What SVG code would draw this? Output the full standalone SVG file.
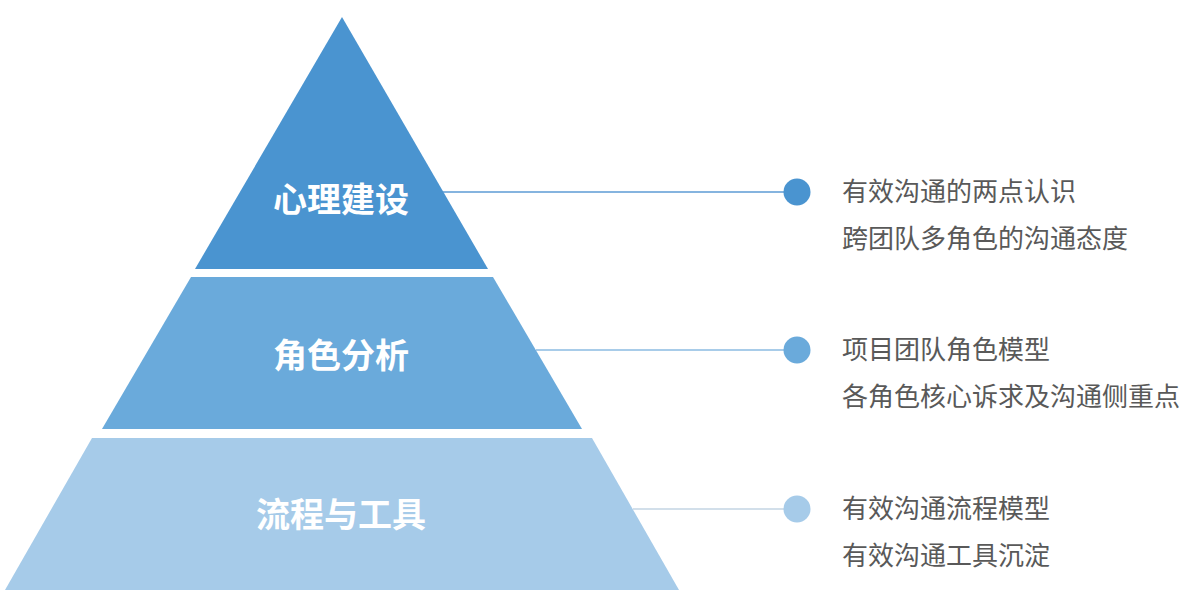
<svg xmlns="http://www.w3.org/2000/svg" width="1200" height="593" viewBox="0 0 1200 593">
  <style>
    .lbl { font-family: "Noto Sans CJK SC", "Noto Sans", sans-serif; font-size: 34px; font-weight: 700; fill: #ffffff; text-anchor: middle; }
    .desc { font-family: "Noto Sans CJK SC", "Noto Sans", sans-serif; font-size: 26px; font-weight: 400; fill: #595959; }
    .conn { stroke-width: 1.5; fill: none; }
  </style>
  <rect width="1200" height="593" fill="#ffffff"/>
  <g id="connectors">
    <line class="conn" x1="443" y1="192" x2="797" y2="192" stroke="#5c9bd4"/>
    <line class="conn" x1="536" y1="350" x2="797" y2="350" stroke="#8bbbe2"/>
    <line class="conn" x1="633" y1="509" x2="797" y2="509" stroke="#c3d4e3"/>
  </g>
  <g id="layer-top">
    <polygon points="342,17 488,269 195,269" fill="#4a94d0"/>
    <text class="lbl" x="341" y="212">心理建设</text>
  </g>
  <g id="layer-middle">
    <polygon points="191,277 493,277 582,429 102,429" fill="#6aaadb"/>
    <text class="lbl" x="341" y="368">角色分析</text>
  </g>
  <g id="layer-bottom">
    <polygon points="92,438 592,438 679,590 5,590" fill="#a6cbe9"/>
    <text class="lbl" x="341" y="527">流程与工具</text>
  </g>
  <g id="item-1">
    <circle cx="797" cy="192" r="13.5" fill="#4a94d0"/>
    <text class="desc" x="842" y="201">有效沟通的两点认识</text>
    <text class="desc" x="842" y="248">跨团队多角色的沟通态度</text>
  </g>
  <g id="item-2">
    <circle cx="797" cy="350" r="13.5" fill="#6aaadb"/>
    <text class="desc" x="842" y="359">项目团队角色模型</text>
    <text class="desc" x="842" y="406">各角色核心诉求及沟通侧重点</text>
  </g>
  <g id="item-3">
    <circle cx="797" cy="509" r="13.5" fill="#a6cbe9"/>
    <text class="desc" x="842" y="518">有效沟通流程模型</text>
    <text class="desc" x="842" y="565">有效沟通工具沉淀</text>
  </g>
</svg>
